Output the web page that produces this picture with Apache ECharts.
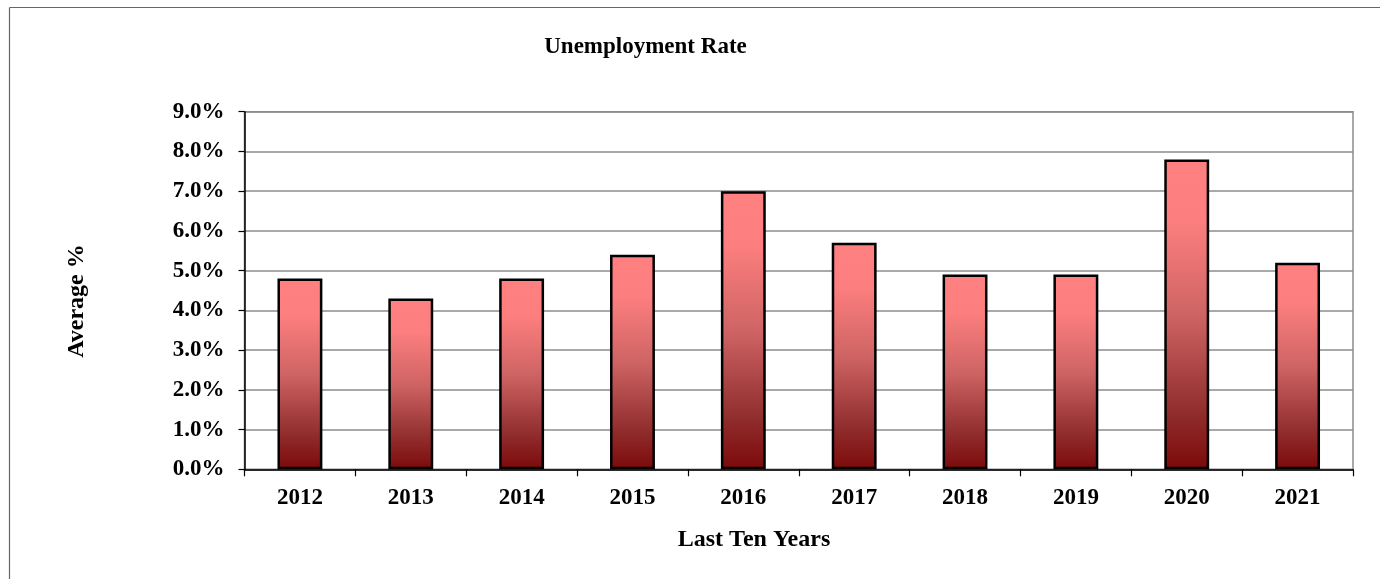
<!DOCTYPE html>
<html>
<head>
<meta charset="utf-8">
<script src="https://cdn.jsdelivr.net/npm/echarts@6/dist/echarts.min.js"></script>
<style>
html,body{margin:0;padding:0;background:#fff;}
#c{width:1380px;height:579px;}
</style>
</head>
<body>
<div id="c"></div>
<script>
var years = ['2012','2013','2014','2015','2016','2017','2018','2019','2020','2021'];
var rates = [4.8, 4.3, 4.8, 5.4, 7.0, 5.7, 4.9, 4.9, 7.8, 5.2];
var chartTitle = 'Unemployment Rate';
var xName = 'Last Ten Years';
var yName = 'Average %';

var font = '"Liberation Serif", "Times New Roman", serif';
var chart = echarts.init(document.getElementById('c'), null, {renderer:'canvas'});
chart.setOption({
  animation: false,
  backgroundColor: '#fff',
  graphic: [
    {type:'line', shape:{x1:9.5,y1:7.5,x2:1400,y2:7.5}, style:{stroke:'#666',lineWidth:1.2}},
    {type:'line', shape:{x1:9.5,y1:7.5,x2:9.5,y2:600}, style:{stroke:'#666',lineWidth:1.2}},
    {type:'text', x:645.5, y:47, style:{text:chartTitle, x:0, y:0, align:'center', verticalAlign:'middle', font:'bold 23px ' + font, fill:'#000'}},
    {type:'text', x:754, y:540, style:{text:xName, x:0, y:0, align:'center', verticalAlign:'middle', font:'bold 24px ' + font, fill:'#000'}},
    {type:'text', rotation:Math.PI/2, x:77, y:301, style:{text:yName, x:0, y:0, align:'center', verticalAlign:'middle', font:'bold 24px ' + font, fill:'#000'}}
  ],
  grid: {left:244.5, top:111.7, right:27, bottom:109.7, show:true, borderColor:'#8c8c8c', borderWidth:1.5, backgroundColor:'transparent'},
  xAxis: {
    type:'category',
    data: years,
    boundaryGap: true,
    axisLine:{show:true, lineStyle:{color:'#000', width:1.5}},
    axisTick:{show:true, length:7, lineStyle:{color:'#000', width:1.2}},
    axisLabel:{color:'#000', fontFamily:font, fontWeight:'bold', fontSize:23, margin:17},
    splitLine:{show:false}
  },
  yAxis: {
    type:'value',
    min:0, max:9, interval:1,
    axisLine:{show:true, lineStyle:{color:'#000', width:1.5}},
    axisTick:{show:true, length:6, lineStyle:{color:'#000', width:1.2}},
    axisLabel:{color:'#000', fontFamily:font, fontWeight:'bold', fontSize:23, margin:20, formatter:function(v){return v.toFixed(1)+'%';}},
    splitLine:{show:true, lineStyle:{color:'#8c8c8c', width:1.5}}
  },
  series: [{
    type:'bar',
    data: rates,
    barWidth:'40.5%',
    itemStyle:{
      borderColor:'#000', borderWidth:2.5,
      color:{type:'linear', x:0, y:0, x2:0, y2:1, colorStops:[
        {offset:0, color:'#ff8080'},
        {offset:0.2, color:'#fc7e7e'},
        {offset:0.5, color:'#cf6464'},
        {offset:0.8, color:'#933030'},
        {offset:1, color:'#7c0a0a'}
      ]}
    }
  }]
});
</script>
</body>
</html>
